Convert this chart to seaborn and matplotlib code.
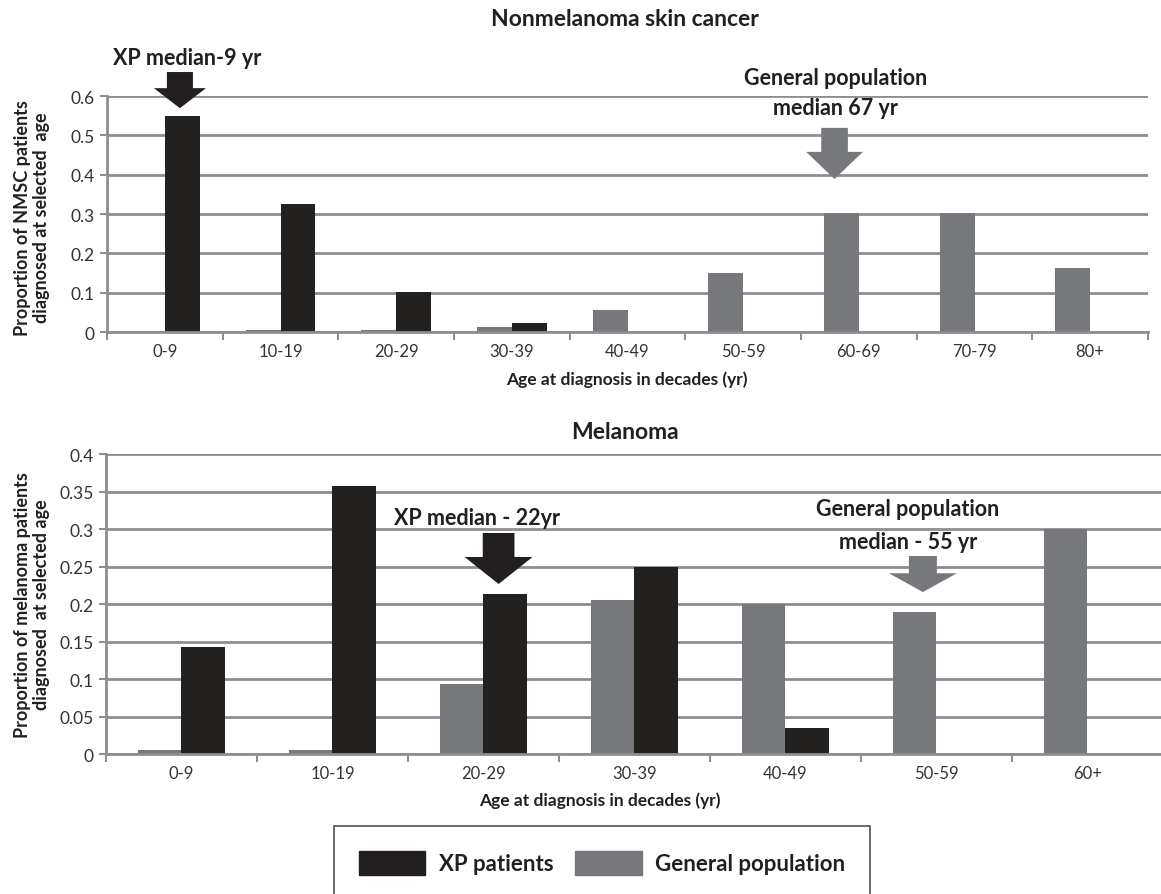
import numpy as np
import pandas as pd
import matplotlib
matplotlib.use("Agg")
import matplotlib.pyplot as plt
import matplotlib.patches as mpatches
import seaborn as sns

# -------------------------------------------------------------------------
# Data
# -------------------------------------------------------------------------

NMSC_AGES = ["0-9", "10-19", "20-29", "30-39", "40-49", "50-59", "60-69", "70-79", "80+"]
NMSC_XP = [0.548, 0.326, 0.102, 0.022, 0, 0, 0, 0, 0]
NMSC_GEN = [0, 0.004, 0.004, 0.012, 0.055, 0.150, 0.303, 0.303, 0.163]

MEL_AGES = ["0-9", "10-19", "20-29", "30-39", "40-49", "50-59", "60+"]
MEL_XP = [0.143, 0.358, 0.214, 0.250, 0.035, 0, 0]
MEL_GEN = [0.005, 0.005, 0.094, 0.205, 0.200, 0.190, 0.300]

SERIES = ["General population", "XP patients"]
COLORS = {"XP patients": "#231f20", "General population": "#77787b"}
GRID = "#8e8e8e"
TEXT = "#231f20"

plt.rcParams["font.family"] = ["Lato", "DejaVu Sans"]


def _long(ages, xp, gen):
    return pd.DataFrame({
        "age": ages * 2,
        "value": list(gen) + list(xp),
        "series": ["General population"] * len(ages) + ["XP patients"] * len(ages),
    })


def _style_axis(ax, n, ymax, step):
    ax.set_xlim(-0.5, n - 0.5)
    ax.set_ylim(0, ymax)
    yt = np.round(np.arange(0, ymax + step / 2, step), 3)
    ax.set_yticks(yt)
    ax.set_yticklabels([f"{v:g}" for v in yt], fontsize=12.5, color="#333333")
    ax.set_xticks(range(n))
    ax.tick_params(axis="x", which="major", length=0, labelsize=12,
                   labelcolor="#333333", pad=8)
    ax.set_xticks(np.arange(-0.5, n, 1.0), minor=True)
    ax.tick_params(axis="x", which="minor", length=6, width=1.5, color=GRID)
    ax.tick_params(axis="y", length=5, width=1.5, color=GRID, pad=4)
    ax.grid(axis="y", color=GRID, linewidth=2)
    ax.grid(axis="x", visible=False)
    ax.set_axisbelow(True)
    for side in ["top", "right"]:
        ax.spines[side].set_visible(False)
    for side in ["left", "bottom"]:
        ax.spines[side].set_color(GRID)
        ax.spines[side].set_linewidth(2)
    ax.set_xlabel("")
    ax.set_ylabel("")
    if ax.get_legend() is not None:
        ax.get_legend().remove()


def _block_arrow(ax, x, y_top, y_neck, y_tip, shaft_w, head_w, color):
    arr = mpatches.FancyArrow(x, y_top, 0, y_tip - y_top, width=shaft_w,
                              head_width=head_w, head_length=y_neck - y_tip,
                              length_includes_head=True, color=color,
                              linewidth=0, clip_on=False, zorder=5)
    ax.add_patch(arr)


fig = plt.figure(figsize=(11.61, 8.95), dpi=100)
ax1 = fig.add_axes([0.0922, 0.6279, 0.8966, 0.2637])
ax2 = fig.add_axes([0.0913, 0.1564, 0.9104, 0.3352])

# --- Nonmelanoma skin cancer ---
sns.barplot(data=_long(NMSC_AGES, NMSC_XP, NMSC_GEN), x="age", y="value",
            hue="series", hue_order=SERIES, order=NMSC_AGES, palette=COLORS,
            width=0.6, linewidth=0, ax=ax1, legend=False)
_style_axis(ax1, len(NMSC_AGES), 0.6, 0.1)

ax1.text(0.19, 0.699, "XP median-9 yr", ha="center", va="center",
         fontsize=15.5, fontweight="bold", color=TEXT, clip_on=False)
_block_arrow(ax1, 0.13, 0.661, 0.620, 0.569, 0.225, 0.45, COLORS["XP patients"])
ax1.text(5.8, 0.646, "General population", ha="center", va="center",
         fontsize=15.5, fontweight="bold", color=TEXT)
ax1.text(5.8, 0.572, "median 67 yr", ha="center", va="center",
         fontsize=15.5, fontweight="bold", color=TEXT)
_block_arrow(ax1, 5.79, 0.519, 0.458, 0.389, 0.23, 0.49, COLORS["General population"])

# --- Melanoma ---
sns.barplot(data=_long(MEL_AGES, MEL_XP, MEL_GEN), x="age", y="value",
            hue="series", hue_order=SERIES, order=MEL_AGES, palette=COLORS,
            width=0.58, linewidth=0, ax=ax2, legend=False)
_style_axis(ax2, len(MEL_AGES), 0.4, 0.05)

ax2.text(1.955, 0.316, "XP median - 22yr", ha="center", va="center",
         fontsize=15.5, fontweight="bold", color=TEXT)
_block_arrow(ax2, 2.1, 0.2947, 0.2627, 0.2267, 0.21, 0.45, COLORS["XP patients"])
ax2.text(4.81, 0.3267, "General population", ha="center", va="center",
         fontsize=15.5, fontweight="bold", color=TEXT)
ax2.text(4.81, 0.283, "median - 55 yr", ha="center", va="center",
         fontsize=15.5, fontweight="bold", color=TEXT)
_block_arrow(ax2, 4.91, 0.264, 0.241, 0.216, 0.185, 0.45, COLORS["General population"])

# --- Titles and axis labels (figure coordinates) ---
W, H = 1161, 895
fig.text(625 / W, 1 - 20 / H, "Nonmelanoma skin cancer", ha="center", va="center",
         fontsize=16.5, fontweight="bold", color=TEXT)
fig.text(625 / W, 1 - 433 / H, "Melanoma", ha="center", va="center",
         fontsize=16.5, fontweight="bold", color=TEXT)
fig.text(627 / W, 1 - 380 / H, "Age at diagnosis in decades (yr)", ha="center",
         va="center", fontsize=12.5, fontweight="bold", color=TEXT)
fig.text(600 / W, 1 - 801 / H, "Age at diagnosis in decades (yr)", ha="center",
         va="center", fontsize=12.5, fontweight="bold", color=TEXT)
fig.text(32 / W, 1 - 218 / H, "Proportion of NMSC patients\ndiagnosed at selected  age",
         ha="center", va="center", rotation=90, fontsize=13, fontweight="bold",
         color=TEXT, linespacing=1.15)
fig.text(32 / W, 1 - 605 / H, "Proportion of melanoma patients\ndiagnosed  at selected age",
         ha="center", va="center", rotation=90, fontsize=13, fontweight="bold",
         color=TEXT, linespacing=1.15)

# --- Legend ---
handles = [mpatches.Patch(color=COLORS["XP patients"], label="XP patients"),
           mpatches.Patch(color=COLORS["General population"], label="General population")]
leg = fig.legend(handles=handles, loc="center", bbox_to_anchor=(602 / W, 1 - 864 / H),
                 ncol=2, frameon=True, fancybox=False, edgecolor="#231f20",
                 prop={"weight": "bold", "size": 16}, handlelength=3.0,
                 handleheight=1.3, columnspacing=1.0, handletextpad=0.6,
                 borderpad=1.1, borderaxespad=0)
leg.get_frame().set_linewidth(1.2)
for t in leg.get_texts():
    t.set_color(TEXT)

fig.savefig("out.png", dpi=100)
plt.close(fig)
